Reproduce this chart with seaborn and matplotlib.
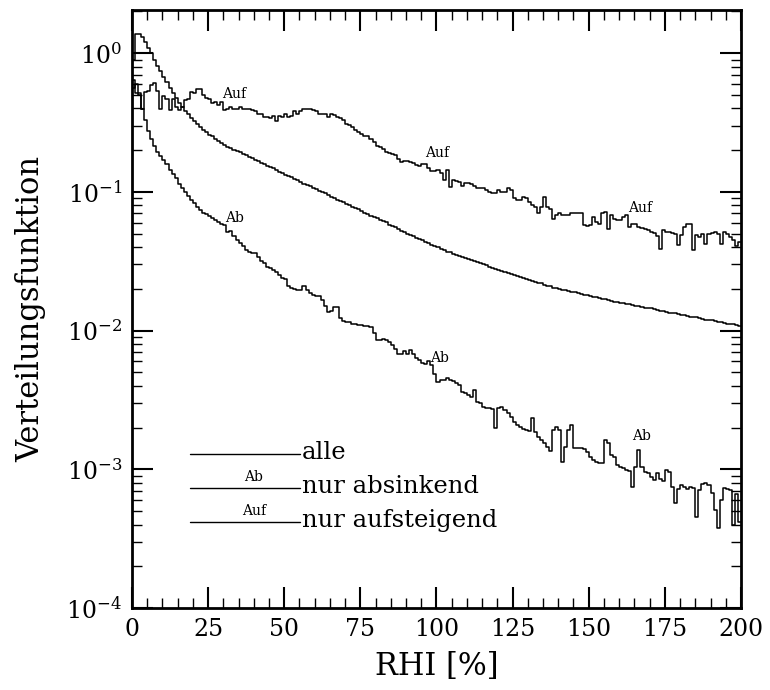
import numpy as np
import pandas as pd
import matplotlib
matplotlib.use("Agg")
import matplotlib.pyplot as plt
import seaborn as sns
from matplotlib.ticker import MultipleLocator, LogLocator, LogFormatterMathtext, NullFormatter

# ---------------- data ----------------
rhi_left = list(range(0, 200))          # left edge of each 1 % RHI bin

alle_log10 = [
    -0.05, 0.14, 0.14, 0.12, 0.08, 0.04, 0.00, -0.05, -0.09, -0.13,
    -0.17, -0.21, -0.25, -0.29, -0.32, -0.36, -0.39, -0.42, -0.44, -0.47,
    -0.49, -0.51, -0.53, -0.55, -0.57, -0.59, -0.60, -0.62, -0.63, -0.65,
    -0.665, -0.675, -0.685, -0.695, -0.705, -0.715, -0.725, -0.735, -0.745, -0.755,
    -0.77, -0.78, -0.79, -0.80, -0.81, -0.82, -0.83, -0.845, -0.855, -0.865,
    -0.875, -0.885, -0.895, -0.905, -0.915, -0.925, -0.94, -0.95, -0.96, -0.97,
    -0.98, -0.99, -1.00, -1.01, -1.02, -1.035, -1.045, -1.055, -1.065, -1.075,
    -1.085, -1.095, -1.105, -1.115, -1.125, -1.14, -1.15, -1.16, -1.17, -1.18,
    -1.19, -1.20, -1.21, -1.22, -1.235, -1.245, -1.255, -1.265, -1.28, -1.29,
    -1.30, -1.31, -1.32, -1.33, -1.34, -1.35, -1.36, -1.37, -1.38, -1.39,
    -1.40, -1.41, -1.42, -1.43, -1.435, -1.445, -1.455, -1.46, -1.47, -1.475,
    -1.48, -1.49, -1.50, -1.505, -1.515, -1.52, -1.53, -1.54, -1.545, -1.555,
    -1.56, -1.57, -1.575, -1.585, -1.59, -1.60, -1.605, -1.615, -1.62, -1.63,
    -1.635, -1.64, -1.65, -1.655, -1.66, -1.67, -1.675, -1.68, -1.69, -1.695,
    -1.70, -1.705, -1.71, -1.715, -1.72, -1.725, -1.73, -1.735, -1.74, -1.745,
    -1.75, -1.755, -1.76, -1.765, -1.77, -1.775, -1.78, -1.785, -1.79, -1.795,
    -1.80, -1.80, -1.805, -1.81, -1.815, -1.82, -1.825, -1.83, -1.835, -1.84,
    -1.84, -1.845, -1.85, -1.855, -1.86, -1.865, -1.87, -1.87, -1.875, -1.88,
    -1.885, -1.89, -1.895, -1.90, -1.90, -1.905, -1.91, -1.915, -1.92, -1.925,
    -1.925, -1.93, -1.935, -1.94, -1.945, -1.95, -1.95, -1.955, -1.96, -1.965,
]

ab_log10 = [
    -0.25, -0.22, -0.30, -0.40, -0.48, -0.56, -0.62, -0.67, -0.71, -0.74,
    -0.77, -0.80, -0.84, -0.87, -0.90, -0.94, -0.97, -1.00, -1.03, -1.06,
    -1.08, -1.11, -1.13, -1.15, -1.16, -1.17, -1.19, -1.20, -1.22, -1.23,
    -1.24, -1.29, -1.28, -1.32, -1.35, -1.37, -1.39, -1.42, -1.43, -1.44,
    -1.44, -1.47, -1.50, -1.51, -1.54, -1.55, -1.56, -1.58, -1.60, -1.62,
    -1.63, -1.68, -1.69, -1.70, -1.71, -1.71, -1.68, -1.71, -1.73, -1.745,
    -1.75, -1.75, -1.78, -1.82, -1.865, -1.86, -1.83, -1.83, -1.91, -1.93,
    -1.935, -1.94, -1.95, -1.955, -1.96, -1.96, -1.965, -1.97, -1.975, -2.02,
    -2.07, -2.065, -2.06, -2.065, -2.08, -2.105, -2.13, -2.165, -2.165, -2.15,
    -2.165, -2.14, -2.165, -2.20, -2.21, -2.235, -2.24, -2.22, -2.25, -2.31,
    -2.368, -2.356, -2.356, -2.344, -2.356, -2.36, -2.375, -2.392, -2.44, -2.452,
    -2.464, -2.476, -2.428, -2.512, -2.524, -2.549, -2.56, -2.56, -2.568, -2.705,
    -2.56, -2.549, -2.573, -2.597, -2.625, -2.657, -2.681, -2.693, -2.712, -2.717,
    -2.721, -2.633, -2.729, -2.765, -2.789, -2.813, -2.837, -2.866, -2.717, -2.693,
    -2.717, -2.945, -2.837, -2.717, -2.68, -2.849, -2.849, -2.849, -2.856, -2.873,
    -2.909, -2.933, -2.945, -2.957, -2.952, -2.789, -2.813, -2.897, -2.914, -2.969,
    -2.986, -2.993, -3.005, -3.01, -3.125, -2.981, -2.861, -2.981, -3.017, -3.029,
    -3.053, -3.077, -3.029, -3.072, -3.082, -3.005, -3.017, -3.125, -3.245, -3.144,
    -3.113, -3.125, -3.144, -3.125, -3.137, -3.341, -3.149, -3.106, -3.101, -3.113,
    -3.173, -3.293, -3.425, -3.221, -3.137, -3.144, -3.15, -3.40, -3.18, -3.38,
]

auf_log10 = [
    -0.19, -0.29, -0.29, -0.40, -0.28, -0.27, -0.23, -0.215, -0.27, -0.40,
    -0.31, -0.33, -0.41, -0.33, -0.39, -0.41, -0.39, -0.34, -0.33, -0.28,
    -0.29, -0.255, -0.255, -0.30, -0.32, -0.33, -0.36, -0.35, -0.37, -0.35,
    -0.41, -0.40, -0.39, -0.40, -0.40, -0.39, -0.40, -0.405, -0.40, -0.41,
    -0.42, -0.435, -0.44, -0.46, -0.46, -0.47, -0.45, -0.485, -0.45, -0.46,
    -0.435, -0.46, -0.45, -0.42, -0.435, -0.42, -0.40, -0.40, -0.40, -0.41,
    -0.42, -0.435, -0.435, -0.435, -0.46, -0.435, -0.445, -0.46, -0.47, -0.48,
    -0.51, -0.52, -0.53, -0.55, -0.57, -0.58, -0.60, -0.60, -0.615, -0.64,
    -0.67, -0.675, -0.687, -0.711, -0.718, -0.723, -0.735, -0.759, -0.783, -0.778,
    -0.776, -0.783, -0.79, -0.807, -0.814, -0.795, -0.795, -0.824, -0.848, -0.848,
    -0.843, -0.862, -0.915, -0.843, -0.963, -0.915, -0.92, -0.927, -0.958, -0.939,
    -0.939, -0.944, -0.958, -0.968, -0.975, -0.975, -0.987, -0.999, -1.011, -1.011,
    -0.987, -0.999, -0.999, -0.975, -0.987, -1.047, -1.055, -1.06, -1.04, -1.047,
    -1.071, -1.095, -1.107, -1.155, -1.107, -1.035, -1.107, -1.12, -1.192, -1.168,
    -1.155, -1.168, -1.168, -1.168, -1.155, -1.155, -1.15, -1.155, -1.24, -1.247,
    -1.24, -1.18, -1.216, -1.228, -1.155, -1.144, -1.264, -1.168, -1.192, -1.199,
    -1.204, -1.18, -1.168, -1.252, -1.232, -1.228, -1.252, -1.257, -1.264, -1.276,
    -1.288, -1.295, -1.319, -1.408, -1.276, -1.288, -1.288, -1.295, -1.30, -1.384,
    -1.312, -1.252, -1.228, -1.228, -1.42, -1.312, -1.324, -1.30, -1.372, -1.30,
    -1.295, -1.288, -1.305, -1.372, -1.288, -1.30, -1.324, -1.348, -1.39, -1.36,
]

x_ticks = [0, 25, 50, 75, 100, 125, 150, 175, 200]
legend_labels = ["alle", "nur absinkend", "nur aufsteigend"]
curve_tags = ["", "Ab", "Auf"]
# positions of the small curve tags (RHI, value)
ab_tag_pos = [(30.5, 0.0575), (97.9, 0.00562), (164.2, 0.00155)]
auf_tag_pos = [(29.6, 0.451), (96.2, 0.169), (163.0, 0.068)]

# ---------------- plotting ----------------
sns.set_theme(style="ticks")
plt.rcParams["font.family"] = ["DejaVu Serif"]
plt.rcParams["mathtext.fontset"] = "dejavuserif"

fig = plt.figure(figsize=(7.7, 6.9), dpi=100)
ax = fig.add_axes([0.1714, 0.1188, 0.7909, 0.8667])


def step_frame(log_vals):
    x = rhi_left + [200]
    y = [10.0 ** v for v in log_vals]
    y = y + [y[-1]]
    return pd.DataFrame({"RHI": x, "F": y})


for vals in (alle_log10, ab_log10, auf_log10):
    sns.lineplot(data=step_frame(vals), x="RHI", y="F", ax=ax, color="black",
                 linewidth=1.1, drawstyle="steps-post", estimator=None,
                 sort=False, legend=False)

ax.set_yscale("log")
ax.set_xlim(0, 200)
ax.set_ylim(1e-4, 2.05)

ax.xaxis.set_major_locator(plt.FixedLocator(x_ticks))
ax.xaxis.set_minor_locator(MultipleLocator(5))
ax.yaxis.set_major_locator(LogLocator(base=10, numticks=10))
ax.yaxis.set_minor_locator(LogLocator(base=10, subs=np.arange(2, 10), numticks=20))
ax.yaxis.set_major_formatter(LogFormatterMathtext())
ax.yaxis.set_minor_formatter(NullFormatter())

ax.tick_params(which="both", direction="in", top=True, right=True,
               colors="black", labelsize=17, pad=7)
ax.tick_params(which="major", length=15, width=1.5)
ax.tick_params(which="minor", length=7.5, width=1.0)
for s in ax.spines.values():
    s.set_linewidth(2.0)
    s.set_color("black")

ax.set_xlabel("RHI [%]", fontsize=22, color="black")
ax.set_ylabel("Verteilungsfunktion", fontsize=22, color="black")
ax.xaxis.set_label_coords(0.5, -0.072)
ax.yaxis.set_label_coords(-0.14, 0.5)

for (xx, yy) in ab_tag_pos:
    ax.text(xx, yy, "Ab", fontsize=10, ha="left", va="bottom", color="black")
for (xx, yy) in auf_tag_pos:
    ax.text(xx, yy, "Auf", fontsize=10, ha="left", va="bottom", color="black")

# custom legend (lines with tags) in axes fraction
leg_y = [0.2575, 0.2007, 0.1438]
for yy, lab, tag in zip(leg_y, legend_labels, curve_tags):
    ax.plot([0.095, 0.276], [yy, yy], transform=ax.transAxes, color="black", lw=1.0)
    ax.text(0.279, yy + 0.002, lab, transform=ax.transAxes, fontsize=17.5,
            ha="left", va="center", color="black")
    if tag:
        ax.text(0.200, yy + 0.006, tag, transform=ax.transAxes, fontsize=10,
                ha="center", va="bottom", color="black")

fig.savefig("out.png", dpi=100)
